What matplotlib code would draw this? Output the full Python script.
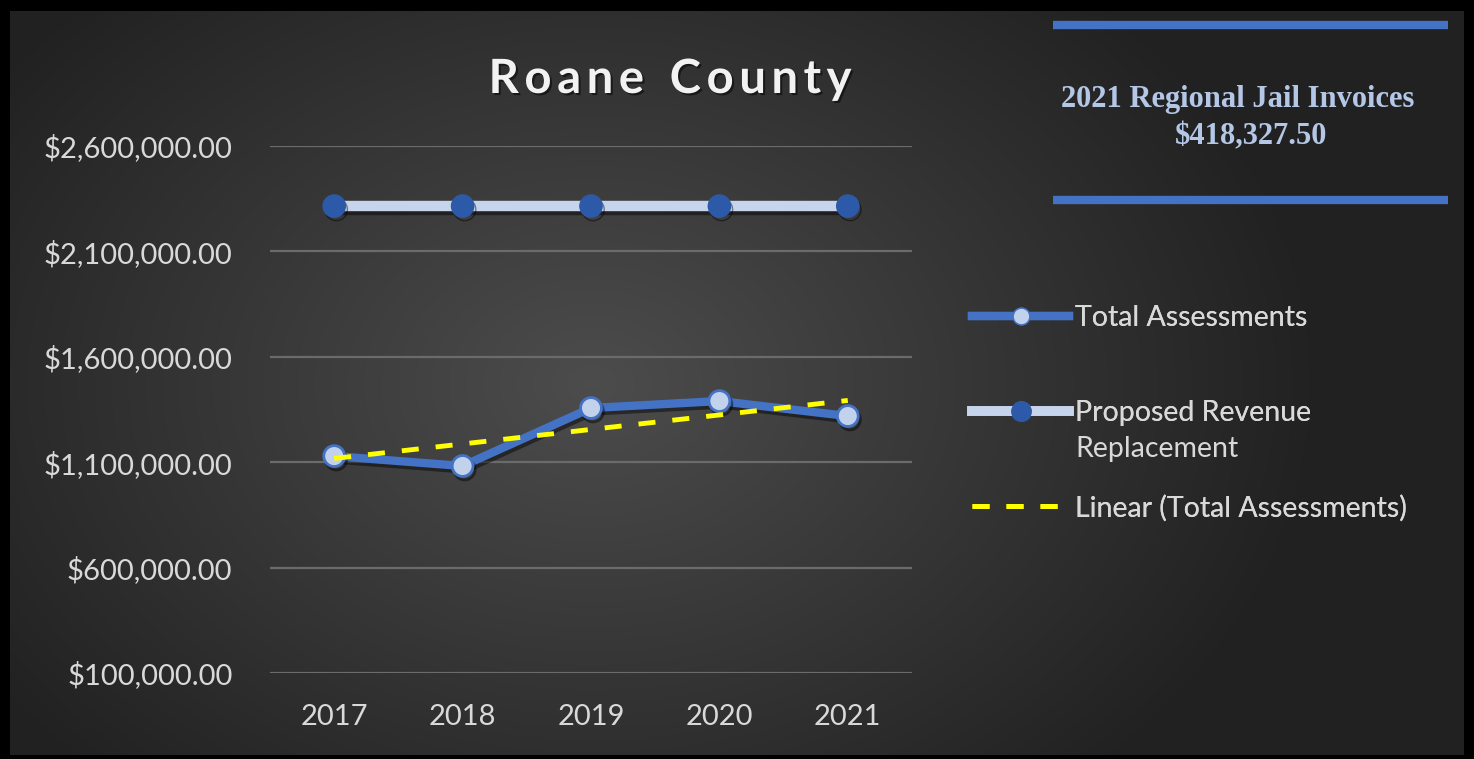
import numpy as np
import matplotlib
matplotlib.use("Agg")
import matplotlib.pyplot as plt
import matplotlib.patheffects as pe
from matplotlib.lines import Line2D
from matplotlib.ticker import FuncFormatter

# ---- data ----
years = ["2017", "2018", "2019", "2020", "2021"]
total_assessments = [1129000, 1082000, 1357000, 1390000, 1319000]
proposed_revenue = [2315000, 2315000, 2315000, 2315000, 2315000]
y_ticks = [100000, 600000, 1100000, 1600000, 2100000, 2600000]
title = "Roane County"
box_line1 = "2021 Regional Jail Invoices"
box_line2 = "$418,327.50"
labels = ["Total Assessments", "Proposed Revenue\nReplacement", "Linear (Total Assessments)"]

W, H = 1474, 759
fig = plt.figure(figsize=(W / 100, H / 100), dpi=100)
fig.patch.set_facecolor("black")

# background gradient
bg = fig.add_axes([10 / W, 4 / H, 1454 / W, 744 / H])
bg.set_axis_off()
yy, xx = np.mgrid[0:300, 0:600]
cx, cy = 0.40, 0.50
d = np.sqrt(((xx / 600 - cx) * 1.3) ** 2 + ((yy / 300 - cy) * 0.9) ** 2)
v = np.clip(0.30 - 0.26 * d, 0.13, 0.30)
img = np.dstack([v, v, v])
bg.imshow(img, aspect="auto", extent=[0, 1, 0, 1], interpolation="bilinear")
bg.set_xlim(0, 1)
bg.set_ylim(0, 1)

font = "Lato"
tick_color = "#d9d9d9"

ax = fig.add_axes([270 / W, 1 - 673 / H, 642 / W, 527 / H])
ax.set_facecolor("none")
x = np.arange(len(years))

for s in ax.spines.values():
    s.set_visible(False)
ax.set_ylim(100000, 2600000)
ax.set_xlim(-0.5, len(years) - 0.5)
ax.set_yticks(y_ticks)
ax.yaxis.set_major_formatter(FuncFormatter(lambda v, p: f"${v:,.2f}"))
ax.set_xticks(x)
ax.set_xticklabels(years)
ax.grid(axis="y", color="#6b6b6b", lw=1.6)
ax.set_axisbelow(True)
ax.tick_params(length=0, colors=tick_color, labelsize=21)
ax.tick_params(axis="y", pad=27)
ax.tick_params(axis="x", pad=22)
for lab in ax.get_xticklabels() + ax.get_yticklabels():
    lab.set_fontfamily(font)
    lab.set_color(tick_color)

shadow = [pe.SimpleLineShadow(offset=(1.5, -2.5), shadow_color="black", alpha=0.45), pe.Normal()]

ax.plot(x, proposed_revenue, color="#c7d5ec", lw=7.5, marker="o", ms=16,
        mfc="#2d5aa8", mec="#2d5aa8", zorder=3, path_effects=shadow, solid_capstyle="round")
ax.plot(x, total_assessments, color="#4472c4", lw=6, marker="o", ms=15,
        mfc="#c3d2ec", mec="#4472c4", mew=2, zorder=4, path_effects=shadow)

coef = np.polyfit(x, total_assessments, 1)
trend = np.polyval(coef, x)
ax.plot(x, trend, color="#ffff00", lw=3.5, ls=(0, (3.5, 3.5)), zorder=5)

# title with letter spacing
renderer = fig.canvas.get_renderer()
tkw = dict(fontsize=34, fontweight="bold", color="#f2f2f2", fontfamily=font, va="baseline", ha="left",
           path_effects=[pe.withSimplePatchShadow(offset=(1.5, -1.5), shadow_rgbFace="black", alpha=0.5)])
spacing = 5.5  # px
widths = []
for ch in title:
    if ch == " ":
        t = fig.text(0, 0, "n", **tkw)
        w = t.get_window_extent(renderer).width * 0.55
    else:
        t = fig.text(0, 0, ch, **tkw)
        w = t.get_window_extent(renderer).width
    t.remove()
    widths.append(w)
total_w = sum(widths) + spacing * (len(title) - 1)
xp = 670 - total_w / 2
for ch, w in zip(title, widths):
    if ch != " ":
        fig.text(xp / W, 1 - 93 / H, ch, **tkw)
    xp += w + spacing

# text box
for yp in (25, 200):
    fig.add_artist(Line2D([1053 / W, 1448 / W], [1 - yp / H, 1 - yp / H], color="#4472c4", lw=6,
                          solid_capstyle="butt", transform=fig.transFigure))
fig.text(1238 / W, 1 - 100 / H, box_line1, ha="center", va="center", fontsize=22,
         fontweight="bold", color="#b4c7e7", fontfamily="Liberation Serif")
fig.text(1251 / W, 1 - 137 / H, box_line2, ha="center", va="center", fontsize=22,
         fontweight="bold", color="#b4c7e7", fontfamily="Liberation Serif")

# legend entries
handles = [
    Line2D([], [], color="#4472c4", lw=6, marker="o", ms=12, mfc="#c3d2ec", mec="#4472c4"),
    Line2D([], [], color="#c7d5ec", lw=7, marker="o", ms=14, mfc="#2d5aa8", mec="#2d5aa8"),
    Line2D([], [], color="#ffff00", lw=3.5, ls=(0, (3.5, 3.5))),
]
ypos = [318, 413, 508]
for h, lab, yp in zip(handles, labels, ypos):
    lines = lab.split("\n")
    leg = fig.legend([h], [lines[0]], loc="center left", bbox_to_anchor=(961 / W, 1 - yp / H),
                     frameon=False, handlelength=3.4, handletextpad=0.2, borderaxespad=0,
                     prop={"family": font, "size": 20.5})
    for t in leg.get_texts():
        t.set_color(tick_color)
    fig.add_artist(leg)
    for k, extra in enumerate(lines[1:], start=1):
        fig.text(1075 / W, 1 - (yp + 36 * k) / H, extra, ha="left", va="center",
                 fontsize=20.5, fontfamily=font, color=tick_color)

fig.savefig("out.png", dpi=100, facecolor=fig.get_facecolor())
